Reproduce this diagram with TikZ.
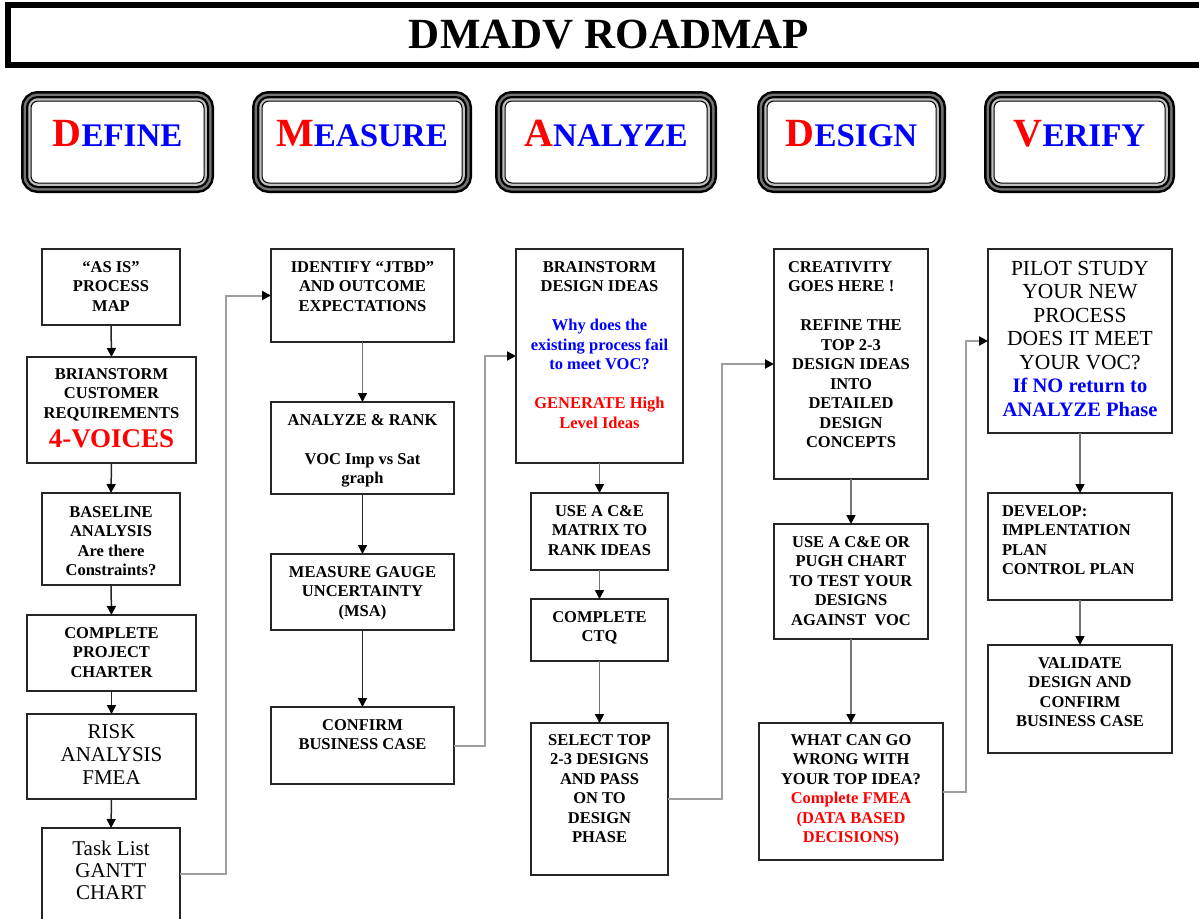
\documentclass[tikz,border=0pt]{standalone}
\usepackage{fontspec}
\setmainfont{Liberation Serif}
\usetikzlibrary{arrows.meta}

% text of a step box: [first baseline]{width}{height}{lines}
\newcommand{\steptext}[4][23pt]{\parbox[c][#3pt][t]{#2pt}{\centering\rule{0pt}{#1}#4\par}}
\newcommand{\phasename}[2]{\raisebox{-4pt}[0pt][0pt]{\color{red}\fontsize{40}{40}\selectfont #1\color{blue}\fontsize{33}{33}\selectfont #2}}

\tikzset{
  stepbox/.style={draw=black!85, line width=1.8pt, fill=white, inner sep=0pt, outer sep=0pt,
    anchor=north west, font=\bfseries\fontsize{16.5}{19.5}\selectfont},
  phase/.style={draw=black, line width=1pt, fill=white, rounded corners=7pt, inner sep=0pt,
    outer sep=0pt, minimum height=82pt, font=\bfseries,
    preaction={draw=black, line width=20pt},
    preaction={draw=black!55, line width=15pt},
    preaction={draw=black, line width=10pt},
    preaction={draw=black!25, line width=5.5pt}},
  flow/.style={draw=black!85, line width=1.5pt, -{Triangle[width=9pt,length=9pt,color=black]}},
  flowgray/.style={flow, draw=black!55},
  link/.style={flow, draw=black!38, line width=2pt},
}

\begin{document}
\begin{tikzpicture}[x=1pt,y=-1pt]
\clip (0,0) rectangle (1199,918);

\node[draw, line width=6pt, minimum width=1202pt, minimum height=59.5pt, inner sep=0pt,
  font=\bfseries\fontsize{43}{43}\selectfont] (title) at (609,34.75) {DMADV ROADMAP};

% phase headers
\foreach \n/\cx/\w/\a/\b in {define/117.5/173/D/EFINE, measure/362/200/M/EASURE,
    analyze/606/202/A/NALYZE, design/851.5/169/D/ESIGN, verify/1079.5/171/V/ERIFY}
  \node[phase, minimum width=\w pt] (\n) at (\cx,142) {\phasename{\a}{\b}};

% define
\node[stepbox] (b1) at (42,249) {\steptext{138}{76}{“AS IS”\\PROCESS\\MAP}};
\node[stepbox] (b2) at (27,357) {\steptext[22pt]{169}{106}{BRIANSTORM\\CUSTOMER\\REQUIREMENTS\\[8pt]{\color{red}\fontsize{27}{28}\selectfont 4-VOICES}}};
\node[stepbox] (b3) at (42,493) {\steptext[24pt]{138}{92}{BASELINE\\ANALYSIS\\Are there\\Constraints?}};
\node[stepbox] (b4) at (27,615) {\steptext{169}{76}{COMPLETE\\PROJECT\\CHARTER}};
\node[stepbox] (b5) at (27,714) {\steptext[24pt]{169}{85}{\mdseries\fontsize{21}{23}\selectfont RISK\\ANALYSIS\\FMEA}};
\node[stepbox] (b6) at (42,828) {\steptext[27pt]{138}{92}{\mdseries\fontsize{21}{22}\selectfont Task List\\GANTT\\CHART}};

% measure
\node[stepbox] (m1) at (271,249) {\steptext{183}{93}{IDENTIFY “JTBD”\\AND OUTCOME\\EXPECTATIONS}};
\node[stepbox] (m2) at (271,402) {\steptext{183}{92}{ANALYZE \& RANK\\[19.5pt]VOC Imp vs Sat\\graph}};
\node[stepbox] (m3) at (271,554) {\steptext{183}{76}{MEASURE GAUGE\\UNCERTAINTY\\(MSA)}};
\node[stepbox] (m4) at (271,707) {\steptext{183}{77}{CONFIRM\\BUSINESS CASE}};

% analyze
\node[stepbox] (a1) at (516,249) {\steptext{167}{214}{BRAINSTORM\\DESIGN IDEAS\\[19.5pt]{\color{blue}Why does the\\existing process fail\\to meet VOC?}\\[19.5pt]{\color{red}GENERATE High\\Level Ideas}}};
\node[stepbox] (a2) at (531,493) {\steptext{137}{77}{USE A C\&E\\MATRIX TO\\RANK IDEAS}};
\node[stepbox] (a3) at (531,599) {\steptext{137}{62}{COMPLETE\\CTQ}};
\node[stepbox] (a4) at (531,723) {\steptext[22pt]{137}{152}{SELECT TOP\\2-3 DESIGNS\\AND PASS\\ON TO\\DESIGN\\PHASE}};

% design
\node[stepbox] (d1) at (774,249) {\steptext{154}{230}{\raggedright\leftskip=14pt CREATIVITY\\GOES HERE !\par\vspace{19.5pt}\centering REFINE THE\\TOP 2-3\\DESIGN IDEAS\\INTO\\DETAILED\\DESIGN\\CONCEPTS}};
\node[stepbox] (d2) at (774,524) {\steptext{154}{115}{USE A C\&E OR\\PUGH CHART\\TO TEST YOUR\\DESIGNS\\AGAINST\ \ VOC}};
\node[stepbox] (d3) at (759,723) {\steptext[22pt]{184}{137}{WHAT CAN GO\\WRONG WITH\\YOUR TOP IDEA?\\{\color{red}Complete FMEA\\(DATA BASED\\DECISIONS)}}};

% verify
\node[stepbox] (v1) at (988,249) {\steptext[26pt]{184}{184}{\mdseries\fontsize{21.5}{23.5}\selectfont PILOT STUDY\\YOUR NEW\\PROCESS\\DOES IT MEET\\YOUR VOC?\\{\color{blue}\bfseries\fontsize{20.5}{23.5}\selectfont If NO return to\\ANALYZE Phase}}};
\node[stepbox] (v2) at (988,493) {\steptext{184}{107}{\raggedright\leftskip=14pt DEVELOP:\\IMPLENTATION\\PLAN\\CONTROL PLAN}};
\node[stepbox] (v3) at (988,645) {\steptext{184}{108}{VALIDATE\\DESIGN AND\\CONFIRM\\BUSINESS CASE}};

% arrows down each column
\foreach \a/\b in {b1/b2,b2/b3,b3/b4,b4/b5,b5/b6,m2/m3,m3/m4}
  \draw[flow] (\a.south) -- (\b.north);
\foreach \a/\b in {m1/m2,a1/a2,a2/a3,a3/a4,d1/d2,d2/d3,v1/v2,v2/v3}
  \draw[flowgray] (\a.south) -- (\b.north);

% from one phase to the next
\draw[link] (b6.east) -- ++(46,0) |- (m1.west);
\draw[link] (m4.east) -- ++(31,0) |- (a1.west);
\draw[link] (a4.east) -- ++(54,0) |- (d1.west);
\draw[link] (d3.east) -- ++(23,0) |- (v1.west);

\end{tikzpicture}
\end{document}
